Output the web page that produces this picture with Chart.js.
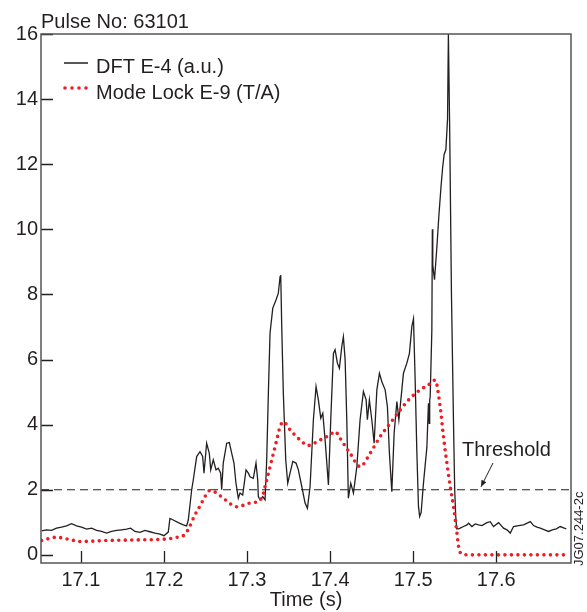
<!DOCTYPE html>
<html>
<head>
<meta charset="utf-8">
<script src="https://cdn.jsdelivr.net/npm/chart.js@4.4.1/dist/chart.umd.min.js"></script>
<style>
  html, body { margin: 0; padding: 0; background: #fff; }
  canvas { display: block; }
</style>
</head>
<body>
<canvas id="pulseChart" width="587" height="612"></canvas>
<script>
// Pulse 63101 - DFT signal vs mode lock amplitude

// DFT E-4 (a.u.)
const dftTime = [
  17.0527, 17.0587, 17.0647, 17.0707, 17.0767, 17.0828, 17.0888, 17.0948, 17.1008, 17.1069,
  17.1129, 17.1189, 17.1249, 17.1310, 17.1370, 17.1430, 17.1490, 17.1551, 17.1599, 17.1651,
  17.1711, 17.1771, 17.1831, 17.1892, 17.1952, 17.2000, 17.2052, 17.2072, 17.2112, 17.2172,
  17.2233, 17.2273, 17.2293, 17.2334, 17.2353, 17.2394, 17.2434, 17.2466, 17.2482, 17.2514,
  17.2546, 17.2563, 17.2594, 17.2627, 17.2654, 17.2683, 17.2695, 17.2714, 17.2755, 17.2787,
  17.2816, 17.2843, 17.2867, 17.2895, 17.2916, 17.2948, 17.2988, 17.3016, 17.3036, 17.3076,
  17.3108, 17.3129, 17.3136, 17.3157, 17.3189, 17.3217, 17.3237, 17.3257, 17.3277, 17.3310,
  17.3349, 17.3377, 17.3398, 17.3406, 17.3418, 17.3437, 17.3466, 17.3490, 17.3518, 17.3551,
  17.3590, 17.3618, 17.3659, 17.3699, 17.3727, 17.3759, 17.3799, 17.3831, 17.3859, 17.3888,
  17.3912, 17.3940, 17.3980, 17.4008, 17.4040, 17.4060, 17.4088, 17.4112, 17.4141, 17.4160,
  17.4181, 17.4201, 17.4220, 17.4249, 17.4281, 17.4322, 17.4361, 17.4401, 17.4434, 17.4449,
  17.4473, 17.4502, 17.4530, 17.4563, 17.4594, 17.4623, 17.4663, 17.4690, 17.4714, 17.4743,
  17.4771, 17.4804, 17.4828, 17.4852, 17.4883, 17.4924, 17.4955, 17.4984, 17.5004, 17.5024,
  17.5044, 17.5064, 17.5078, 17.5096, 17.5124, 17.5165, 17.5184, 17.5193, 17.5199, 17.5205,
  17.5225, 17.5231, 17.5236, 17.5257, 17.5286, 17.5309, 17.5335, 17.5355, 17.5373, 17.5394,
  17.5414, 17.5424, 17.5440, 17.5461, 17.5486, 17.5500, 17.5512, 17.5524, 17.5546, 17.5566,
  17.5606, 17.5647, 17.5667, 17.5707, 17.5747, 17.5787, 17.5828, 17.5888, 17.5928, 17.5967,
  17.6028, 17.6088, 17.6129, 17.6169, 17.6208, 17.6269, 17.6329, 17.6410, 17.6449, 17.6490,
  17.6530, 17.6582, 17.6630, 17.6675, 17.6723, 17.6771, 17.6819, 17.6843
];
const dftValue = [
  0.74, 0.77, 0.75, 0.82, 0.85, 0.89, 0.96, 0.89, 0.85, 0.79,
  0.82, 0.75, 0.72, 0.67, 0.72, 0.75, 0.77, 0.79, 0.82, 0.72,
  0.69, 0.75, 0.71, 0.67, 0.64, 0.59, 0.70, 1.12, 1.07, 0.99,
  0.92, 0.89, 1.07, 2.00, 2.30, 3.02, 3.17, 3.02, 2.51, 3.43,
  3.12, 2.61, 2.92, 2.61, 2.66, 2.51, 2.00, 2.82, 3.43, 3.45,
  3.12, 2.82, 2.20, 1.74, 1.90, 1.84, 2.61, 2.51, 2.40, 2.35,
  2.82, 2.30, 1.79, 1.69, 1.79, 1.69, 2.92, 4.97, 6.81, 7.58,
  7.83, 8.04, 8.55, 8.60, 7.01, 4.97, 2.92, 2.20, 2.51, 2.87,
  2.82, 2.61, 2.10, 1.59, 1.43, 2.10, 4.15, 5.17, 4.76, 4.20,
  4.35, 3.53, 2.15, 4.15, 6.19, 6.30, 5.89, 5.73, 6.40, 6.70,
  5.99, 4.15, 1.74, 2.20, 1.90, 2.71, 4.15, 5.02, 4.76, 4.15,
  4.76, 4.15, 3.43, 5.07, 5.58, 5.32, 5.07, 4.55, 3.12, 1.94,
  3.74, 4.71, 4.15, 4.76, 5.58, 5.89, 6.19, 7.01, 7.25, 5.37,
  3.20, 1.48, 1.18, 1.30, 2.20, 3.30, 4.66, 4.04, 4.75, 4.86,
  6.91, 10.0, 8.90, 8.45, 9.47, 10.4, 11.3, 11.9, 12.3, 12.45,
  13.4, 16.0, 13.0, 8.00, 4.00, 2.00, 1.20, 0.80, 0.80, 0.82,
  0.87, 0.92, 0.97, 0.87, 0.95, 0.92, 0.90, 0.99, 1.02, 0.87,
  0.99, 0.82, 0.77, 0.67, 0.87, 0.90, 0.92, 1.02, 0.90, 0.85,
  0.82, 0.77, 0.72, 0.77, 0.80, 0.87, 0.82, 0.80
];

// Mode Lock E-9 (T/A)
const modeLockTime = [
  17.0527, 17.0707, 17.0867, 17.0988, 17.1310, 17.1711, 17.1992, 17.2153, 17.2253, 17.2313,
  17.2373, 17.2434, 17.2494, 17.2554, 17.2614, 17.2714, 17.2876, 17.3036, 17.3177, 17.3217,
  17.3298, 17.3358, 17.3398, 17.3437, 17.3518, 17.3639, 17.3735, 17.3880, 17.4000, 17.4060,
  17.4120, 17.4241, 17.4361, 17.4482, 17.4602, 17.4723, 17.4843, 17.4964, 17.5084, 17.5184,
  17.5265, 17.5325, 17.5365, 17.5406, 17.5446, 17.5486, 17.5527, 17.5546, 17.5587, 17.5687,
  17.6831
];
const modeLockValue = [
  0.44, 0.54, 0.47, 0.41, 0.44, 0.46, 0.48, 0.54, 0.63, 0.89,
  1.23, 1.50, 1.79, 1.98, 1.93, 1.74, 1.48, 1.59, 1.74, 2.10,
  2.92, 3.53, 3.94, 4.09, 3.84, 3.53, 3.36, 3.53, 3.69, 3.79,
  3.58, 3.12, 2.71, 3.12, 3.63, 4.04, 4.45, 4.81, 5.07, 5.22,
  5.37, 4.55, 3.63, 2.82, 2.10, 1.48, 0.67, 0.26, 0.02, 0.00,
  0.00
];

// Threshold level
const thresholdTime = [17.052, 17.69];
const thresholdValue = [2, 2];

// Axis ticks
const xTickValues = [17.1, 17.2, 17.3, 17.4, 17.5, 17.6];
const yTickValues = [0, 2, 4, 6, 8, 10, 12, 14, 16];

const INK = "#231f20";
const RED = "#ee1d23";
const FONT = "'Liberation Sans', Arial, Helvetica, sans-serif";

function toPoints(xs, ys) {
  return xs.map((x, i) => ({ x: x, y: ys[i] }));
}

// Frame, inward ticks and the free text of the figure
const overlayPlugin = {
  id: "overlay",
  afterDraw(chart) {
    const { ctx, chartArea: a, scales } = chart;
    ctx.save();

    // inward tick marks
    ctx.strokeStyle = INK;
    ctx.lineWidth = 1.3;
    ctx.beginPath();
    xTickValues.forEach((v) => {
      const px = Math.round(scales.x.getPixelForValue(v)) + 0.5;
      ctx.moveTo(px, a.bottom);
      ctx.lineTo(px, a.bottom - 12);
    });
    yTickValues.forEach((v) => {
      const py = Math.round(scales.y.getPixelForValue(v)) + 0.5;
      ctx.moveTo(a.left, py);
      ctx.lineTo(a.left + 12, py);
    });
    ctx.stroke();

    // plot frame
    ctx.strokeStyle = "#555";
    ctx.lineWidth = 1.5;
    ctx.strokeRect(a.left, a.top, a.right - a.left, a.bottom - a.top);

    ctx.fillStyle = INK;
    ctx.textBaseline = "alphabetic";
    ctx.textAlign = "left";
    ctx.font = "20px " + FONT;

    // pulse number
    ctx.fillText("Pulse No: 63101", 41, 28);

    // legend
    ctx.strokeStyle = INK;
    ctx.lineWidth = 1.5;
    ctx.beginPath();
    ctx.moveTo(64, 63);
    ctx.lineTo(88, 63);
    ctx.stroke();
    ctx.fillText("DFT E-4 (a.u.)", 96, 72.5);

    ctx.fillStyle = RED;
    [65, 72, 79, 86].forEach((dx) => {
      ctx.beginPath();
      ctx.arc(dx, 88, 1.8, 0, Math.PI * 2);
      ctx.fill();
    });
    ctx.fillStyle = INK;
    ctx.fillText("Mode Lock E-9 (T/A)", 96, 98.5);

    // threshold label and arrow
    ctx.fillText("Threshold", 462, 456);
    const yThr = scales.y.getPixelForValue(thresholdValue[0]);
    const x0 = 493, y0 = 463, x1 = 481, y1 = yThr - 3;
    ctx.lineWidth = 1;
    ctx.beginPath();
    ctx.moveTo(x0, y0);
    ctx.lineTo(x1, y1);
    ctx.stroke();
    const ang = Math.atan2(y1 - y0, x1 - x0);
    ctx.beginPath();
    ctx.moveTo(x1, y1);
    ctx.lineTo(x1 - 7 * Math.cos(ang - 0.4), y1 - 7 * Math.sin(ang - 0.4));
    ctx.lineTo(x1 - 7 * Math.cos(ang + 0.4), y1 - 7 * Math.sin(ang + 0.4));
    ctx.closePath();
    ctx.fill();

    // figure id, rotated along the right edge
    ctx.save();
    ctx.translate(583, 566);
    ctx.rotate(-Math.PI / 2);
    ctx.font = "13px " + FONT;
    ctx.fillText("JG07.244-2c", 0, 0);
    ctx.restore();

    ctx.restore();
  },
};

const chartElement = document.getElementById("pulseChart");
const ctx = chartElement.getContext("2d");

new Chart(ctx, {
  type: "line",
  data: {
    datasets: [
      {
        label: "Mode Lock E-9 (T/A)",
        data: toPoints(modeLockTime, modeLockValue),
        borderColor: RED,
        borderWidth: 3.6,
        borderDash: [0, 6.5],
        borderCapStyle: "round",
        cubicInterpolationMode: "monotone",
        pointRadius: 0,
        fill: false,
      },
      {
        label: "DFT E-4 (a.u.)",
        data: toPoints(dftTime, dftValue),
        borderColor: INK,
        borderWidth: 1.3,
        tension: 0,
        pointRadius: 0,
        fill: false,
      },
      {
        label: "Threshold",
        data: toPoints(thresholdTime, thresholdValue),
        borderColor: INK,
        borderWidth: 1.1,
        borderDash: [8, 5],
        pointRadius: 0,
        fill: false,
      },
    ],
  },
  options: {
    responsive: false,
    animation: false,
    layout: {
      padding: { left: 0, top: 34, right: 16, bottom: 0 },
    },
    plugins: {
      legend: { display: false },
      tooltip: { enabled: false },
      title: { display: false },
    },
    scales: {
      x: {
        type: "linear",
        min: 17.052,
        max: 17.69,
        grid: { display: false, drawTicks: false },
        border: { display: false },
        afterBuildTicks: (scale) => {
          scale.ticks = xTickValues.map((v) => ({ value: v }));
        },
        afterFit: (scale) => {
          scale.height = 49;
        },
        ticks: {
          autoSkip: false,
          maxRotation: 0,
          padding: 5,
          color: INK,
          font: { family: FONT, size: 20 },
          callback: (v) => Number(v).toFixed(1),
        },
        title: {
          display: true,
          text: "Time (s)",
          color: INK,
          font: { family: FONT, size: 20 },
          padding: { top: 0, bottom: 0 },
        },
      },
      y: {
        type: "linear",
        min: -0.25,
        max: 16,
        grid: { display: false, drawTicks: false },
        border: { display: false },
        afterBuildTicks: (scale) => {
          scale.ticks = yTickValues.map((v) => ({ value: v }));
        },
        afterFit: (scale) => {
          scale.width = 41;
        },
        ticks: {
          autoSkip: false,
          padding: 3,
          color: INK,
          font: { family: FONT, size: 20 },
          callback: (v) => v,
        },
      },
    },
  },
  plugins: [overlayPlugin],
});
</script>
</body>
</html>
